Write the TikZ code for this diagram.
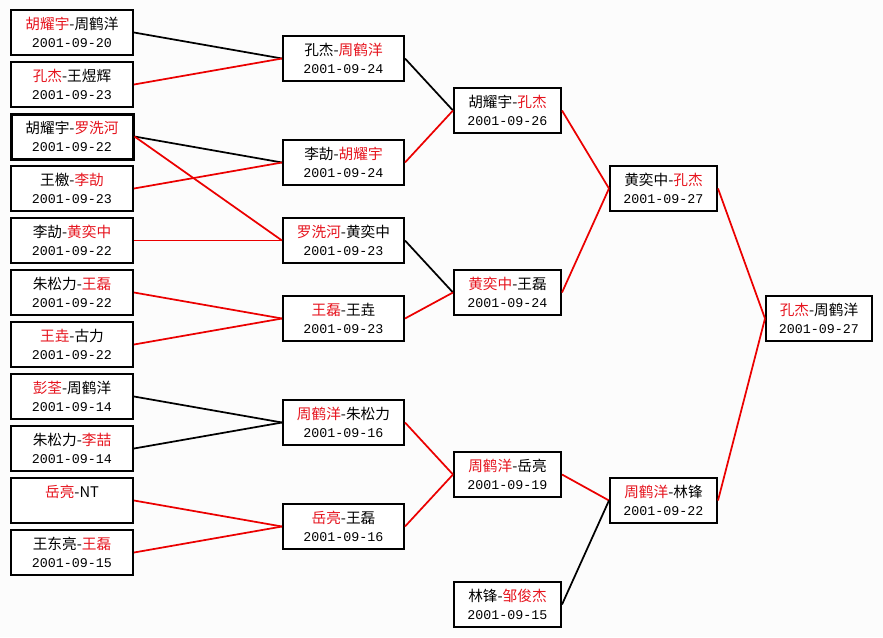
\documentclass[tikz,border=0pt]{standalone}
\usepackage{fontspec}
\newfontfamily\cjk{Noto Sans CJK SC}
\newfontfamily\dfont{Liberation Mono}
\definecolor{winred}{RGB}{230,20,30}
\definecolor{bg}{RGB}{252,252,252}
\newcommand{\rd}[1]{\textcolor{winred}{#1}}
\newcommand{\dt}[1]{{\dfont\fontsize{10}{13.5}\selectfont #1}}
\tikzset{
  box/.style={draw=black, line width=1.5pt, fill=white, align=center, inner sep=0pt,
    minimum height=33.75pt, font={\cjk\fontsize{11}{13.5}\selectfont}},
  c1/.style={box, minimum width=91.5pt},
  c2/.style={box, minimum width=90.75pt},
  c3/.style={box, minimum width=80.25pt},
  c5/.style={box, minimum width=79.5pt},
  blk/.style={draw=black, line width=1.3pt},
  red/.style={draw={rgb,255:red,235;green,0;blue,0}, line width=1.3pt},
}
\begin{document}
\begin{tikzpicture}[x=0.75pt, y=-0.75pt]
\fill[bg] (0,0) rectangle (883,637);
\useasboundingbox (0,0) rectangle (883,637);
% column 1
\node[c1] (a1) at (72,32.5) {\rd{胡耀宇}-周鹤洋\\\dt{2001-09-20}};
\node[c1] (a2) at (72,84.5) {\rd{孔杰}-王煜辉\\\dt{2001-09-23}};
\node[c1, line width=2.25pt] (a3) at (72,136.5) {胡耀宇-\rd{罗洗河}\\\dt{2001-09-22}};
\node[c1] (a4) at (72,188.5) {王檄-\rd{李劼}\\\dt{2001-09-23}};
\node[c1] (a5) at (72,240.5) {李劼-\rd{黄奕中}\\\dt{2001-09-22}};
\node[c1] (a6) at (72,292.5) {朱松力-\rd{王磊}\\\dt{2001-09-22}};
\node[c1] (a7) at (72,344.5) {\rd{王垚}-古力\\\dt{2001-09-22}};
\node[c1] (a8) at (72,396.5) {\rd{彭荃}-周鹤洋\\\dt{2001-09-14}};
\node[c1] (a9) at (72,448.5) {朱松力-\rd{李喆}\\\dt{2001-09-14}};
\node[c1] (a10) at (72,500.5) {\rd{岳亮}-NT\\\phantom{\dt{2001-09-14}}};
\node[c1] (a11) at (72,552.5) {王东亮-\rd{王磊}\\\dt{2001-09-15}};
% column 2
\node[c2] (b1) at (343.5,58.5) {孔杰-\rd{周鹤洋}\\\dt{2001-09-24}};
\node[c2] (b2) at (343.5,162.5) {李劼-\rd{胡耀宇}\\\dt{2001-09-24}};
\node[c2] (b3) at (343.5,240.5) {\rd{罗洗河}-黄奕中\\\dt{2001-09-23}};
\node[c2] (b4) at (343.5,318.5) {\rd{王磊}-王垚\\\dt{2001-09-23}};
\node[c2] (b5) at (343.5,422.5) {\rd{周鹤洋}-朱松力\\\dt{2001-09-16}};
\node[c2] (b6) at (343.5,526.5) {\rd{岳亮}-王磊\\\dt{2001-09-16}};
% column 3
\node[c3] (c1n) at (507.5,110.5) {胡耀宇-\rd{孔杰}\\\dt{2001-09-26}};
\node[c3] (c2n) at (507.5,292.5) {\rd{黄奕中}-王磊\\\dt{2001-09-24}};
\node[c3] (c3n) at (507.5,474.5) {\rd{周鹤洋}-岳亮\\\dt{2001-09-19}};
\node[c3] (c4n) at (507.5,604.5) {林锋-\rd{邹俊杰}\\\dt{2001-09-15}};
% column 4
\node[c3] (d1) at (663.5,188.5) {黄奕中-\rd{孔杰}\\\dt{2001-09-27}};
\node[c3] (d2) at (663.5,500.5) {\rd{周鹤洋}-林锋\\\dt{2001-09-22}};
% column 5
\node[c5] (e1) at (819,318.5) {\rd{孔杰}-周鹤洋\\\dt{2001-09-27}};
% connectors
\draw[blk] (a1.east) -- (b1.west);
\draw[red] (a2.east) -- (b1.west);
\draw[blk] (a3.east) -- (b2.west);
\draw[red] (a4.east) -- (b2.west);
\draw[red] (a3.east) -- (b3.west);
\draw[red] (a5.east) -- (b3.west);
\draw[red] (a6.east) -- (b4.west);
\draw[red] (a7.east) -- (b4.west);
\draw[blk] (a8.east) -- (b5.west);
\draw[blk] (a9.east) -- (b5.west);
\draw[red] (a10.east) -- (b6.west);
\draw[red] (a11.east) -- (b6.west);
\draw[blk] (b1.east) -- (c1n.west);
\draw[red] (b2.east) -- (c1n.west);
\draw[blk] (b3.east) -- (c2n.west);
\draw[red] (b4.east) -- (c2n.west);
\draw[red] (b5.east) -- (c3n.west);
\draw[red] (b6.east) -- (c3n.west);
\draw[red] (c1n.east) -- (d1.west);
\draw[red] (c2n.east) -- (d1.west);
\draw[red] (c3n.east) -- (d2.west);
\draw[blk] (c4n.east) -- (d2.west);
\draw[red] (d1.east) -- (e1.west);
\draw[red] (d2.east) -- (e1.west);
\end{tikzpicture}
\end{document}
